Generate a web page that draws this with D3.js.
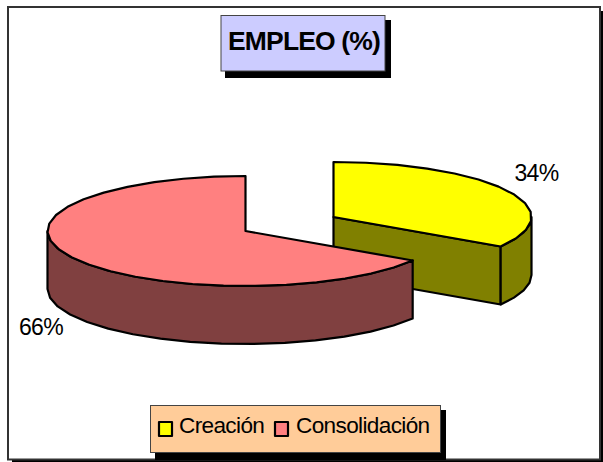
<!DOCTYPE html>
<html><head><meta charset="utf-8">
<script src="https://cdn.jsdelivr.net/npm/d3@7"></script>
<style>html,body{margin:0;padding:0;background:#fff}svg{display:block}text{font-family:"Liberation Sans",Arial,sans-serif;fill:#000}</style>
</head><body><div id="c"></div>
<script>
const title = "EMPLEO (%)";
const categories = ["Creación", "Consolidación"];
const values = [34, 66];
const topColors = ["#ffff00", "#ff8080"];
const sideColors = ["#808000", "#804040"];
const W = 603, H = 462;
const svg = d3.select("#c").append("svg").attr("width", W).attr("height", H);
svg.append("rect").attr("x", 12).attr("y", 11).attr("width", 591).attr("height", 451).attr("fill", "#000");
svg.append("rect").attr("x", 8).attr("y", 7).attr("width", 592).attr("height", 452.5)
  .attr("fill", "#fff").attr("stroke", "#333").attr("stroke-width", 2);

const rx = 198, ry = 55, depth = 58;
const centers = [[333.5, 217], [245.5, 231]];
const arcs = d3.pie().sort(null).value(d => d)(values);
const sx = d3.scaleLinear().domain([-1, 1]).range([-rx, rx]);
const sy = d3.scaleLinear().domain([-1, 1]).range([-ry, ry]);
const pt = (a, c, dz = 0) => [c[0] + sx(Math.sin(a)), c[1] + sy(-Math.cos(a)) + dz];
const line = d3.line();
const sweep = (a0, a1, c, dz = 0) => {
  const n = Math.max(2, Math.round(Math.abs(a1 - a0) / 0.16));
  return d3.range(n + 1).map(i => pt(a0 + (a1 - a0) * i / n, c, dz));
};
const stroke = s => s.attr("stroke", "#000").attr("stroke-width", 2.2).attr("stroke-linejoin", "round");

arcs.forEach((d, i) => {
  const c = centers[i], g = svg.append("g");
  const side = sideColors[i];
  if (i === 0) {
    const tip = pt(d.endAngle, c);
    stroke(g.append("path").attr("d", line([c, tip, [tip[0], tip[1] + depth], [c[0], c[1] + depth]]) + "Z").attr("fill", side));
  }
  const a0 = Math.max(d.startAngle, Math.PI / 2), a1 = Math.min(d.endAngle, Math.PI * 1.5);
  const rim = sweep(a0, a1, c);
  const rimLow = sweep(a1, a0, c, depth);
  stroke(g.append("path").attr("d", line(rim.concat(rimLow)) + "Z").attr("fill", side));
  const top = [c].concat(sweep(d.startAngle, d.endAngle, c));
  stroke(g.append("path").attr("d", line(top) + "Z").attr("fill", topColors[i]));
});

svg.append("text").attr("x", 536.5).attr("y", 181).attr("text-anchor", "middle").attr("font-size", 23).attr("letter-spacing", -0.7).text(values[0] + "%");
svg.append("text").attr("x", 41).attr("y", 335).attr("text-anchor", "middle").attr("font-size", 23).attr("letter-spacing", -0.7).text(values[1] + "%");

// title box
svg.append("rect").attr("x", 225).attr("y", 20).attr("width", 166).attr("height", 58).attr("fill", "#000");
svg.append("rect").attr("x", 221).attr("y", 15.5).attr("width", 164).attr("height", 55.5).attr("fill", "#ccccff").attr("stroke", "#444").attr("stroke-width", 1);
svg.append("text").attr("x", 304).attr("y", 50).attr("text-anchor", "middle").attr("font-size", 26.5).attr("font-weight", "bold").attr("letter-spacing", -0.85).text(title);

// legend
svg.append("rect").attr("x", 155).attr("y", 410).attr("width", 291).attr("height", 50).attr("fill", "#000");
svg.append("rect").attr("x", 150.5).attr("y", 405.5).attr("width", 290).attr("height", 47).attr("fill", "#ffcc99").attr("stroke", "#444").attr("stroke-width", 1);
const lx = [159, 275], tx = [179, 296];
categories.forEach((n, i) => {
  stroke(svg.append("rect").attr("x", lx[i]).attr("y", 422).attr("width", 13).attr("height", 14).attr("fill", topColors[i]));
  svg.append("text").attr("x", tx[i]).attr("y", 433).attr("font-size", 22.6).attr("letter-spacing", -0.65).text(n);
});
</script></body></html>
